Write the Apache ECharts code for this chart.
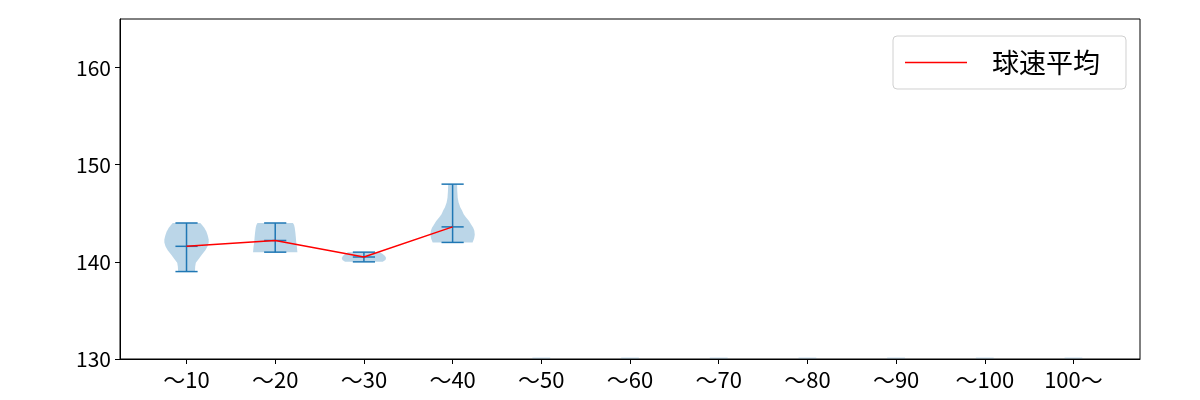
<!DOCTYPE html>
<html><head><meta charset="utf-8">
<script src="https://cdn.jsdelivr.net/npm/echarts@6/dist/echarts.min.js"></script>
<style>html,body{margin:0;padding:0;background:#fff}#c{width:1200px;height:400px}</style>
</head><body><div id="c"></div><script>
const categories = ['～10','～20','～30','～40','～50','～60','～70','～80','～90','～100','100～'];
const meanSpeed = [141.6, 142.2, 140.5, 143.6];
const minSpeed = [139, 141, 140, 142];
const maxSpeed = [144, 144, 141, 148];
// violin outlines: [speed, relative half-width]
const violin1 = [[139,0.38],[139.5,0.39],[139.9,0.42],[140.3,0.55],[140.7,0.68],[141.2,0.85],[141.6,0.95],[142.0,1.0],[142.3,1.0],[142.7,0.96],[143.1,0.9],[143.5,0.8],[143.8,0.7],[144,0.62]];
const violin2 = [[141,1.0],[141.5,0.98],[142,0.95],[142.5,0.93],[143,0.91],[143.5,0.88],[143.8,0.85],[144,0.8]];
const violin3 = [[140,0.85],[140.2,0.97],[140.4,1.0],[140.6,0.95],[140.8,0.85],[141,0.72]];
const violin4 = [[142,0.9],[142.4,0.97],[142.8,1.0],[143.2,0.98],[143.5,0.93],[143.8,0.85],[144.2,0.74],[144.6,0.6],[144.9,0.5],[145.3,0.42],[145.6,0.35],[146.1,0.27],[146.6,0.23],[147.3,0.21],[148,0.2]];
const violins = [violin1, violin2, violin3, violin4];
const yTicks = [130, 140, 150, 160];
const yMin = 130, yMax = 165;

const positions = categories.map((c, i) => i + 1);
const BLUE = '#1f77b4';
const HALF = 0.25, CAP = 0.125;

function renderViolin(params, api) {
  const i = params.dataIndex;
  const pos = api.value(0);
  const children = [];
  if (i >= violins.length) {
    const a = api.coord([pos - 0.1, yMin]), b = api.coord([pos + 0.1, yMin]);
    children.push({type:'line', shape:{x1:a[0], y1:a[1]-1, x2:b[0], y2:b[1]-1}, style:{stroke:'rgba(31,119,180,0.15)', lineWidth:1.5}});
    return {type:'group', children};
  }
  const prof = violins[i];
  const pts = [];
  prof.forEach(p => pts.push(api.coord([pos + HALF * p[1], p[0]])));
  for (let k = prof.length - 1; k >= 0; k--) pts.push(api.coord([pos - HALF * prof[k][1], prof[k][0]]));
  children.push({type:'polygon', shape:{points:pts}, style:{fill:'rgba(31,119,180,0.3)', stroke:null}});
  const top = api.coord([pos, maxSpeed[i]]), bot = api.coord([pos, minSpeed[i]]);
  children.push({type:'line', shape:{x1:top[0], y1:top[1], x2:bot[0], y2:bot[1]}, style:{stroke:BLUE, lineWidth:1.5}});
  [maxSpeed[i], minSpeed[i], meanSpeed[i]].forEach(v => {
    const a = api.coord([pos - CAP, v]), b = api.coord([pos + CAP, v]);
    children.push({type:'line', shape:{x1:a[0], y1:a[1], x2:b[0], y2:b[1]}, style:{stroke:BLUE, lineWidth:1.5}});
  });
  return {type:'group', children};
}

const FONT = '"Noto Sans CJK JP", "Noto Sans", sans-serif';
const chart = echarts.init(document.getElementById('c'), null, {renderer:'canvas'});
chart.setOption({
  animation: false,
  backgroundColor: '#fff',
  textStyle: {fontFamily: FONT},
  grid: {left:120, right:60, top:19, bottom:41, show:true, borderColor:'#000', borderWidth:1, backgroundColor:'transparent'},
  legend: {
    left: 893, top: 36,
    padding: [13, 26, 13, 12],
    backgroundColor: '#fff', borderColor: '#d0d0d0', borderWidth: 1, borderRadius: 4,
    itemWidth: 62, itemHeight: 1.5,
    icon: 'rect',
    textStyle: {fontSize: 27, color:'#000', fontFamily: FONT, padding:[0,0,0,20]},
    data: ['球速平均']
  },
  xAxis: {
    type: 'value', min: 0.25, max: 11.75,
    axisLine: {show:true, lineStyle:{color:'#000', width:1}},
    axisTick: {show:true, customValues: positions, length:5, lineStyle:{color:'#000'}},
    axisLabel: {show:true, customValues: positions, color:'#000', fontSize:22, fontFamily: FONT, margin:10,
      formatter: v => categories[Math.round(v) - 1] || ''},
    splitLine: {show:false}
  },
  yAxis: {
    type: 'value', min: yMin, max: yMax,
    axisLine: {show:true, lineStyle:{color:'#000', width:1}},
    axisTick: {show:true, customValues: yTicks, length:5, lineStyle:{color:'#000'}},
    axisLabel: {show:true, customValues: yTicks, color:'#000', fontSize:21, fontFamily: FONT, margin:9},
    splitLine: {show:false}
  },
  series: [
    {type:'custom', name:'violin', renderItem: renderViolin, data: positions.map(p => [p]), clip:false, z:2},
    {type:'line', name:'球速平均', data: meanSpeed.map((m, i) => [positions[i], m]), showSymbol:false, symbol:'none',
      lineStyle:{color:'red', width:1.5}, itemStyle:{color:'red'}, z:3}
  ]
});
</script></body></html>
